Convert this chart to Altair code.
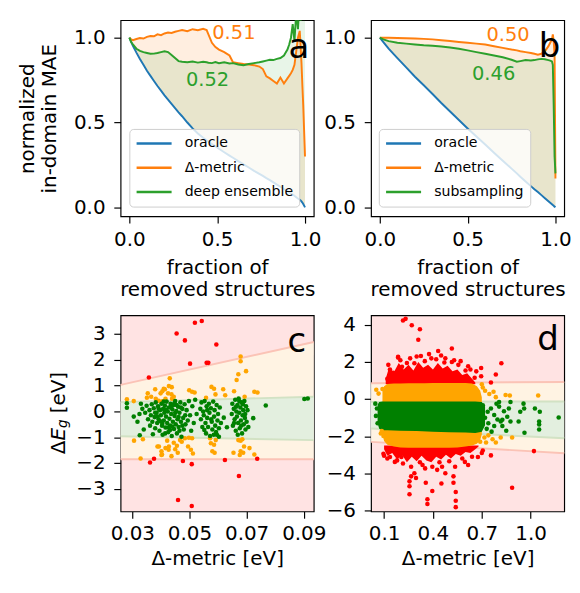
import altair as alt
import pandas as pd

FONT = "DejaVu Sans"
FS = 20.5
BLUE, ORANGE, GREEN = "#1f77b4", "#ff7f0e", "#2ca02c"
P_RED, P_ORANGE, P_GREEN = "#ff0000", "#ffa500", "#008000"
BG_PINK, BG_CREAM, BG_GREEN = "#ffe3e3", "#fff3e3", "#e3efdf"
EDGE_RED, EDGE_GREEN = "#fbc3b6", "#d2e2c4"

# ---------------- panel a ----------------
xa = [0.00, 0.01, 0.02, 0.04, 0.06, 0.08, 0.10, 0.12, 0.14, 0.16, 0.18, 0.20, 0.22, 0.24,
      0.26, 0.28, 0.30, 0.33, 0.36, 0.39, 0.42, 0.44, 0.45, 0.47, 0.49, 0.51, 0.54, 0.57,
      0.59, 0.62, 0.65, 0.68, 0.71, 0.74, 0.76, 0.78, 0.80, 0.82, 0.84, 0.86, 0.88, 0.90,
      0.91, 0.92, 0.93, 0.94, 0.95, 0.96, 0.97, 0.975, 0.98, 0.985, 0.99, 0.995, 1.00]
oracle_a = [1.000, 0.975, 0.952, 0.912, 0.875, 0.840, 0.805, 0.775, 0.745, 0.715, 0.688, 0.660,
            0.635, 0.610, 0.585, 0.560, 0.537, 0.500, 0.465, 0.435, 0.410, 0.395, 0.388, 0.373,
            0.360, 0.345, 0.325, 0.305, 0.292, 0.272, 0.253, 0.235, 0.215, 0.197, 0.185, 0.172,
            0.160, 0.147, 0.134, 0.121, 0.108, 0.095, 0.088, 0.082, 0.075, 0.068, 0.060, 0.052,
            0.045, 0.040, 0.035, 0.028, 0.020, 0.010, 0.000]
delta_a = [1.000, 0.990, 0.985, 0.992, 0.998, 0.995, 1.005, 1.010, 1.008, 1.020, 1.015, 1.025,
           1.030, 1.028, 1.035, 1.040, 1.045, 1.038, 1.050, 1.044, 1.052, 1.045, 1.020, 0.970,
           0.945, 0.930, 0.915, 0.895, 0.855, 0.850, 0.845, 0.842, 0.838, 0.830, 0.815, 0.772,
           0.760, 0.745, 0.730, 0.765, 0.730, 0.760, 0.775, 0.790, 0.810, 0.840, 0.920, 1.000,
           1.040, 0.950, 0.850, 0.720, 0.600, 0.450, 0.300]
ens_a = [1.000, 0.975, 0.960, 0.935, 0.922, 0.915, 0.910, 0.905, 0.906, 0.910, 0.915, 0.920,
         0.915, 0.898, 0.880, 0.862, 0.858, 0.855, 0.860, 0.853, 0.858, 0.855, 0.852, 0.850,
         0.856, 0.850, 0.855, 0.848, 0.850, 0.842, 0.838, 0.845, 0.850, 0.855, 0.860, 0.865,
         0.870, 0.868, 0.875, 0.880, 0.895, 0.930, 0.960, 1.000, 1.080, 0.980, 1.150, 1.050,
         1.250, 1.100, 1.300, 1.120, 1.400, 1.200, 1.500]
series_a = ["oracle", "Δ-metric", "deep ensemble"]
ann_a = [("0.51", 0.595, 0.99, ORANGE), ("0.52", 0.445, 0.717, GREEN)]
letter_a = ("a", 1.024, 0.882)

# ---------------- panel b ----------------
xb = [0.00, 0.02, 0.05, 0.10, 0.15, 0.20, 0.25, 0.30, 0.35, 0.40, 0.45, 0.50, 0.55, 0.60,
      0.65, 0.70, 0.75, 0.78, 0.80, 0.83, 0.86, 0.88, 0.90, 0.92, 0.94, 0.96, 0.97, 0.98,
      0.985, 0.99, 0.995, 1.00]
oracle_b = [1.0, 0.974, 0.935, 0.88, 0.825, 0.77, 0.72, 0.668, 0.615, 0.565, 0.515, 0.465,
            0.417, 0.37, 0.322, 0.275, 0.228, 0.2, 0.18, 0.152, 0.125, 0.107, 0.09, 0.072,
            0.054, 0.036, 0.027, 0.018, 0.013, 0.009, 0.004, 0.0]
delta_b = [1.0, 1.0, 1.0, 0.998, 0.997, 0.995, 0.993, 0.99, 0.985, 0.98, 0.975, 0.97, 0.965,
           0.96, 0.95, 0.94, 0.93, 0.925, 0.92, 0.915, 0.91, 0.905, 0.90, 0.905, 0.92, 0.95,
           0.97, 0.99, 1.02, 0.98, 0.90, 0.17]
sub_b = [1.0, 0.99, 0.98, 0.97, 0.965, 0.96, 0.955, 0.953, 0.948, 0.942, 0.935, 0.925, 0.915,
         0.905, 0.895, 0.885, 0.87, 0.858, 0.862, 0.868, 0.866, 0.868, 0.872, 0.875, 0.873,
         0.868, 0.865, 0.86, 0.84, 0.60, 0.30, 0.20]
series_b = ["oracle", "Δ-metric", "subsampling"]
ann_b = [("0.50", 0.73, 0.98, ORANGE), ("0.46", 0.648, 0.753, GREEN)]
letter_b = ("b", 1.028, 0.886)

# ---------------- panel c ----------------
c_xdom = [0.0259, 0.0935]
c_ydom = [-3.87, 3.72]
c_band_x = [0.0259, 0.0935]
c_red_hi = [1.03, 2.69]
c_green_hi = [0.36, 0.57]
c_green_lo = [-0.96, -1.11]
c_red_lo = [-1.85, -1.85]
c_red = [(0.0519, 3.43), (0.0543, 3.50), (0.0455, 3.02), (0.0484, 2.75), (0.0594, 2.59),
         (0.0502, 1.85), (0.0560, 1.88), (0.0566, 1.88), (0.0358, 1.31), (0.0376, -1.83),
         (0.0362, -1.98), (0.0477, -1.92), (0.0508, -2.04), (0.0624, -1.88), (0.0737, -1.83),
         (0.0673, -2.50), (0.0460, -3.43), (0.0508, -3.66)]
c_orange = [(0.0281, 0.47), (0.0354, 0.70), (0.0351, 0.53), (0.0380, 0.86), (0.0399, 0.70),
            (0.0405, 0.78), (0.0414, 0.86), (0.0428, 0.98), (0.0431, 1.28), (0.0425, 0.70),
            (0.0437, 0.66), (0.0445, 0.57), (0.0439, 0.49), (0.0416, 0.49), (0.0392, 0.41),
            (0.0405, 0.39), (0.0382, 0.49), (0.0499, 0.82), (0.0509, 0.76), (0.0518, 0.73),
            (0.0577, 0.95), (0.0586, 0.88), (0.0591, 0.66), (0.0618, 0.86), (0.0625, 0.63),
            (0.0656, 0.78), (0.0679, 2.13), (0.0679, 1.94), (0.0671, 1.44), (0.0665, 1.22),
            (0.0727, 0.76), (0.0738, 0.73), (0.0693, 0.57), (0.0558, 0.53), (0.0366, 0.57),
            (0.0305, 0.40), (0.0410, 0.88), (0.0438, 0.94), (0.0698, 1.56),
            (0.0306, -1.13), (0.0337, -1.08), (0.0329, -1.82), (0.0388, -1.36), (0.0402, -1.54),
            (0.0402, -1.69), (0.0416, -1.42), (0.0422, -1.13), (0.0428, -1.36), (0.0437, -1.73),
            (0.0445, -1.21), (0.0450, -1.46), (0.0459, -1.60), (0.0456, -1.33), (0.0467, -1.11),
            (0.0473, -1.17), (0.0484, -1.04), (0.0498, -1.02), (0.0495, -1.36), (0.0505, -1.48),
            (0.0512, -1.63), (0.0509, -1.04), (0.0572, -1.04), (0.0575, -1.23), (0.0586, -1.29),
            (0.0592, -1.11), (0.0580, -1.54), (0.0588, -1.60), (0.0654, -1.60), (0.0671, -1.11),
            (0.0679, -1.13), (0.0685, -1.08), (0.0679, -1.54), (0.0688, -1.60), (0.0676, -1.69),
            (0.0691, -1.36), (0.0710, -1.42), (0.0727, -1.67), (0.0393, -1.36), (0.0404, -1.67),
            (0.0427, -1.48)]
c_green = [(0.0281, 0.32), (0.0281, 0.14), (0.0305, -0.20), (0.0318, -0.40), (0.0325, -0.10),
           (0.0340, -0.70), (0.0330, 0.30), (0.0326, -0.92), (0.0335, 0.10), (0.0345, -0.05),
           (0.0350, 0.22), (0.0355, -0.30), (0.0360, 0.05), (0.0362, -0.55), (0.0365, -0.15),
           (0.0368, 0.28), (0.0370, -0.40), (0.0372, -0.88), (0.0375, 0.12), (0.0378, -0.22),
           (0.0380, -0.65), (0.0382, 0.35), (0.0385, -0.05), (0.0387, -0.45), (0.0390, 0.20),
           (0.0392, -0.30), (0.0395, -0.75), (0.0397, 0.05), (0.0400, -0.15), (0.0402, 0.30),
           (0.0404, -0.55), (0.0406, -0.90), (0.0408, 0.10), (0.0410, -0.35), (0.0412, -0.05),
           (0.0414, 0.22), (0.0416, -0.62), (0.0418, -0.20), (0.0420, 0.38), (0.0422, -0.45),
           (0.0424, 0.00), (0.0426, -0.80), (0.0428, 0.15), (0.0430, -0.28), (0.0432, -0.55),
           (0.0434, 0.30), (0.0436, -0.10), (0.0438, -0.95), (0.0440, 0.08), (0.0442, -0.40),
           (0.0444, 0.25), (0.0446, -0.68), (0.0448, -0.18), (0.0450, 0.40), (0.0452, -0.50),
           (0.0454, 0.02), (0.0456, -0.85), (0.0458, -0.30), (0.0460, 0.18), (0.0462, -0.60),
           (0.0465, -0.05), (0.0468, 0.35), (0.0470, -0.40), (0.0472, -0.98), (0.0475, 0.10),
           (0.0478, -0.25), (0.0480, -0.70), (0.0483, 0.28), (0.0486, -0.50), (0.0490, 0.05),
           (0.0494, -0.35), (0.0498, 0.40), (0.0502, -0.15), (0.0506, -0.75), (0.0510, 0.20),
           (0.0515, -0.45), (0.0520, 0.45), (0.0525, -0.10), (0.0392, 0.10), (0.0405, -0.48),
           (0.0418, 0.05), (0.0432, -0.72), (0.0447, 0.32), (0.0462, -0.22), (0.0475, -0.55),
           (0.0388, -0.20), (0.0415, -0.85), (0.0440, -0.58), (0.0455, 0.25), (0.0470, 0.15),
           (0.0485, -0.15), (0.0435, 0.18), (0.0410, 0.38), (0.0398, -0.38), (0.0425, -0.62),
           (0.0450, -0.05), (0.0380, -0.05), (0.0465, -0.75),
           (0.0538, 0.10), (0.0540, -0.30), (0.0542, 0.35), (0.0545, -0.60), (0.0548, 0.00),
           (0.0550, -0.15), (0.0553, 0.40), (0.0556, -0.45), (0.0558, -0.85), (0.0560, 0.20),
           (0.0562, -0.25), (0.0565, -0.60), (0.0568, 0.30), (0.0570, -0.05), (0.0572, -0.95),
           (0.0575, 0.12), (0.0578, -0.40), (0.0580, -0.70), (0.0583, 0.38), (0.0586, -0.20),
           (0.0588, 0.05), (0.0590, -0.55), (0.0593, -0.80), (0.0595, 0.25), (0.0598, -0.35),
           (0.0600, -0.10), (0.0603, -0.65), (0.0606, 0.15), (0.0610, -0.45), (0.0562, 0.05),
           (0.0576, -0.30), (0.0552, -0.72), (0.0585, -0.90), (0.0596, -0.90), (0.0603, -0.98),
           (0.0620, -0.24), (0.0631, -0.61),
           (0.0648, -0.10), (0.0650, 0.30), (0.0652, -0.55), (0.0655, 0.10), (0.0658, -0.30),
           (0.0660, 0.45), (0.0662, -0.75), (0.0664, 0.00), (0.0666, -0.20), (0.0668, 0.25),
           (0.0670, -0.45), (0.0672, 0.50), (0.0674, -0.05), (0.0676, -0.65), (0.0678, 0.15),
           (0.0680, -0.35), (0.0682, 0.35), (0.0684, -0.85), (0.0686, -0.15), (0.0688, 0.05),
           (0.0690, -0.50), (0.0692, 0.40), (0.0694, -0.25), (0.0696, -0.70), (0.0698, 0.20),
           (0.0700, -0.40), (0.0703, 0.05), (0.0706, -0.60), (0.0674, 0.40), (0.0681, -0.55),
           (0.0669, -0.90), (0.0687, 0.28), (0.0663, 0.18), (0.0695, -0.10), (0.0656, -0.45),
           (0.0723, -0.26), (0.0767, 0.23), (0.0902, 0.48), (0.0914, 0.50)]
letter_c = ("c", 0.0908, 2.31)

# ---------------- panel d ----------------
d_xdom = [0.02, 1.206]
d_ydom = [-6.05, 4.52]
d_band_x = [0.02, 1.206]
d_red_hi = [0.86, 0.93]
d_green_hi = [-0.15, -0.12]
d_green_lo = [-1.58, -2.11]
d_red_lo = [-2.30, -2.91]
# dense core of the cloud (too many points to list one by one): envelopes
d_core_x = [0.09, 0.10, 0.12, 0.16, 0.20, 0.25, 0.30, 0.35, 0.40, 0.45, 0.50, 0.55, 0.60,
            0.64, 0.67, 0.69, 0.70]
d_orange_top = [0.45, 0.70, 0.82, 0.84, 0.85, 0.86, 0.86, 0.86, 0.87, 0.87, 0.87, 0.87, 0.87,
                0.85, 0.70, 0.45, 0.10]
d_orange_bot = [-1.90, -2.25, -2.45, -2.55, -2.60, -2.62, -2.62, -2.62, -2.62, -2.62, -2.62,
                -2.60, -2.55, -2.50, -2.40, -2.20, -1.90]
d_gcore_x = [0.06, 0.07, 0.09, 0.12, 0.20, 0.30, 0.40, 0.50, 0.60, 0.66, 0.70, 0.72]
d_gcore_top = [-0.30, -0.15, -0.12, -0.12, -0.12, -0.12, -0.12, -0.12, -0.12, -0.12, -0.15, -0.40]
d_gcore_bot = [-1.30, -1.60, -1.67, -1.68, -1.70, -1.72, -1.75, -1.78, -1.80, -1.82, -1.75, -1.40]
d_rtop_x = [0.11, 0.13, 0.16, 0.19, 0.22, 0.25, 0.28, 0.31, 0.34, 0.37, 0.40, 0.43, 0.46, 0.49,
            0.52, 0.55, 0.58, 0.61, 0.64, 0.66]
d_rtop_hi = [1.10, 1.70, 1.45, 1.95, 1.60, 1.85, 1.55, 2.00, 1.70, 1.85, 1.60, 1.95, 1.65, 1.80,
             1.50, 1.60, 1.30, 1.40, 1.10, 0.90]
d_rtop_lo = [0.80] * 20
d_rbot_x = [0.10, 0.12, 0.15, 0.18, 0.21, 0.24, 0.27, 0.30, 0.33, 0.36, 0.39, 0.42, 0.45, 0.48,
            0.51, 0.54, 0.57, 0.60, 0.63, 0.66, 0.68]
d_rbot_hi = [-2.50] * 21
d_rbot_lo = [-2.70, -3.05, -2.90, -3.25, -3.00, -3.40, -3.10, -3.35, -3.05, -3.30, -3.40, -3.10,
             -3.25, -3.00, -3.20, -2.95, -3.05, -2.85, -2.90, -2.70, -2.55]
d_red = [(0.216, 4.24), (0.232, 4.33), (0.27, 3.98), (0.32, 3.77), (0.31, 3.2), (0.516, 2.73),
         (0.432, 2.6), (0.326, 2.33), (0.186, 2.24), (0.376, 2.43), (0.476, 2.2), (0.82, 1.94),
         (0.126, 1.85), (0.616, 1.77), (0.696, 1.68), (0.786, 1.33), (0.756, 0.9), (0.556, 1.85),
         (0.516, 2.0), (0.286, 1.94), (0.156, 1.42), (0.136, 1.6), (0.666, 1.5), (0.696, 1.24),
         (0.656, 1.16), (0.15, 1.2), (0.20, 2.1), (0.24, 1.95), (0.35, 2.05), (0.42, 2.15),
         (0.47, 1.98), (0.60, 1.55), (0.63, 1.6), (0.12, 1.1), (0.186, 2.29), (0.26, 2.2),
         (0.30, 2.3), (0.39, 2.2), (0.45, 2.35), (0.53, 2.1), (0.57, 2.05), (0.21, 1.75),
         (0.096, -2.94), (0.136, -3.12), (0.216, -3.47), (0.266, -3.64), (0.336, -3.55),
         (0.396, -3.64), (0.456, -3.64), (0.536, -3.64), (0.596, -3.38), (0.676, -3.12),
         (0.756, -3.03), (0.706, -2.77), (0.286, -3.99), (0.266, -4.16), (0.352, -3.73),
         (0.256, -4.43), (0.256, -4.69), (0.256, -5.12), (0.296, -4.25), (0.356, -4.51),
         (0.452, -4.55), (0.526, -4.51), (0.396, -4.95), (0.54, -5.0), (0.366, -5.39),
         (0.366, -5.65), (0.54, -5.47), (0.54, -5.82), (0.886, -4.77), (1.02, -2.8),
         (0.526, -4.16), (0.426, -3.81), (0.476, -3.99), (0.616, -3.55), (0.206, -3.12),
         (0.166, -3.38), (0.12, -3.2), (0.18, -3.3), (0.32, -3.4), (0.44, -3.4), (0.50, -3.35),
         (0.58, -3.2), (0.64, -3.1), (0.10, -3.05), (0.70, -2.9)]
d_orange = [(0.052, 0.51), (0.066, 0.30), (0.09, 0.55), (0.706, 0.63), (0.72, 0.45), (0.746, 0.28),
            (0.772, 0.40), (0.786, 0.11), (0.846, 0.23), (0.872, 0.20), (1.046, 0.20),
            (0.886, -2.07), (0.816, -2.07), (0.786, -2.33), (0.726, -2.33), (0.766, -2.16),
            (0.716, -2.07), (0.096, -1.98), (0.086, -1.72), (0.08, -1.85), (0.70, 0.80),
            (0.69, -2.3), (0.74, -1.95)]
d_green = [(0.046, -0.24), (0.056, -0.5), (0.05, -0.9), (0.06, -1.3), (0.706, -0.33),
           (0.736, -0.68), (0.756, -0.5), (0.776, -0.85), (0.796, -1.1), (0.816, -1.2),
           (0.826, -1.45), (0.836, -0.65), (0.806, -0.4), (0.776, -1.45), (0.856, -0.95),
           (0.876, -1.2), (0.926, -1.2), (0.936, -0.68), (0.956, -0.24), (0.96, -0.5),
           (1.026, -0.5), (1.056, -0.68), (1.052, -1.2), (1.052, -1.37), (1.052, -1.63),
           (1.172, -0.99), (0.962, -1.81), (0.866, -0.5), (0.806, -0.15), (0.876, -0.15),
           (0.826, -1.11), (0.72, -1.0), (0.74, -1.3), (0.73, -1.6), (0.76, -1.75),
           (0.79, -0.25), (0.85, -1.7)]
letter_d = ("d", 1.172, 2.64)

W, H = 199, 202


def txt(df_rows, size, color, align="center"):
    d = pd.DataFrame(df_rows, columns=["t", "x", "y"])
    return alt.Chart(d).mark_text(font=FONT, fontSize=size, color=color, align=align,
                                  baseline="alphabetic")


def top_panel(x, oracle, delta, other, names, ann, letter, ytitle, legend_x):
    wide = pd.DataFrame({"x": x, "oracle": oracle, "delta": delta, "other": other})
    long = pd.concat([pd.DataFrame({"x": x, "y": oracle, "s": names[0]}),
                      pd.DataFrame({"x": x, "y": delta, "s": names[1]}),
                      pd.DataFrame({"x": x, "y": other, "s": names[2]})])
    xs = alt.Scale(domain=[-0.05, 1.05], nice=False, zero=False)
    ys = alt.Scale(domain=[-0.053, 1.103], nice=False, zero=False)
    ax = alt.Axis(values=[0, 0.5, 1.0], format=".1f", title=["fraction of", "removed structures"],
                  labelPadding=7, titlePadding=8)
    ay = alt.Axis(values=[0, 0.5, 1.0], format=".1f", title=ytitle)
    X = alt.X("x:Q", scale=xs, axis=ax)
    fill_d = alt.Chart(wide).mark_area(color=ORANGE, opacity=0.13).encode(
        x=X, y=alt.Y("oracle:Q", scale=ys, axis=ay), y2="delta:Q")
    fill_o = alt.Chart(wide).mark_area(color=GREEN, opacity=0.11, clip=True).encode(
        x=X, y=alt.Y("oracle:Q", scale=ys, axis=ay), y2="other:Q")
    lines = alt.Chart(long).mark_line(strokeWidth=2, clip=True).encode(
        x=X, y=alt.Y("y:Q", scale=ys, axis=ay),
        color=alt.Color("s:N", sort=names,
                        scale=alt.Scale(domain=names, range=[BLUE, ORANGE, GREEN]),
                        legend=alt.Legend(title=None, orient="none", legendX=legend_x, legendY=112,
                                          symbolType="stroke", symbolSize=1300, symbolStrokeWidth=2.5,
                                          clipHeight=18,
                                          labelFont=FONT, labelFontSize=14.5, labelColor="black",
                                          fillColor="rgba(255,255,255,0.8)", strokeColor="#cccccc",
                                          cornerRadius=4, padding=6, rowPadding=7, labelOffset=12,
                                          labelLimit=300)))
    layers = [fill_d, fill_o, lines]
    for t, tx, ty, col in ann:
        layers.append(txt([(t, tx, ty)], 20, col).encode(x=X, y=alt.Y("y:Q", scale=ys, axis=ay), text="t:N"))
    layers.append(txt([letter], 35, "black", "right").encode(
        x=X, y=alt.Y("y:Q", scale=ys, axis=ay), text="t:N"))
    return alt.layer(*layers).properties(width=W, height=H)


def bottom_panel(xdom, ydom, xvals, xfmt, yvals, band_x, red_hi, green_hi, green_lo, red_lo,
                 red, orange, green, letter, cores=None, ytitle=False):
    xs = alt.Scale(domain=xdom, nice=False, zero=False)
    ys = alt.Scale(domain=ydom, nice=False, zero=False)
    X = alt.X("x:Q", scale=xs, axis=alt.Axis(values=xvals, format=xfmt, title="Δ-metric [eV]",
                                             labelPadding=6, titlePadding=5))
    ay = alt.Axis(values=yvals, format="d", title=None)
    bands = pd.DataFrame({"x": band_x, "rh": red_hi, "gh": green_hi, "gl": green_lo, "rl": red_lo})
    layers = [
        alt.Chart(bands).mark_area(color=BG_CREAM, opacity=1).encode(
            x=X, y=alt.Y("rl:Q", scale=ys, axis=ay), y2="rh:Q"),
        alt.Chart(bands).mark_area(color=BG_GREEN, opacity=1).encode(
            x=X, y=alt.Y("gl:Q", scale=ys, axis=ay), y2="gh:Q"),
    ]
    for col, c in [("rh", EDGE_RED), ("rl", EDGE_RED), ("gh", EDGE_GREEN), ("gl", EDGE_GREEN)]:
        layers.append(alt.Chart(bands).mark_line(color=c, strokeWidth=2).encode(
            x=X, y=alt.Y(f"{col}:Q", scale=ys, axis=ay)))
    if cores:
        for cx, lo, hi, c in cores:
            cdf = pd.DataFrame({"x": cx, "lo": lo, "hi": hi})
            layers.append(alt.Chart(cdf).mark_area(color=c, opacity=1).encode(
                x=X, y=alt.Y("lo:Q", scale=ys, axis=ay), y2="hi:Q"))
    for pts, c in [(red, P_RED), (orange, P_ORANGE), (green, P_GREEN)]:
        pdf = pd.DataFrame(pts, columns=["x", "y"])
        layers.append(alt.Chart(pdf).mark_circle(size=22, opacity=1, color=c).encode(
            x=X, y=alt.Y("y:Q", scale=ys, axis=ay)))
    layers.append(txt([letter], 35, "black", "right").encode(
        x=X, y=alt.Y("y:Q", scale=ys, axis=ay), text="t:N"))
    if ytitle:
        pieces = [("Δ", 143, -57, FS, "normal"), ("E", 129, -57, FS, "italic"),
                  ("g", 116, -55, 14, "italic"), ("[eV]", 101, -57, FS, "normal")]
        for t, py, px, fs, st in pieces:
            layers.append(alt.Chart(pd.DataFrame({"t": [t]})).mark_text(
                font=FONT, fontSize=fs, fontStyle=st, angle=270, align="left",
                baseline="alphabetic", color="black").encode(
                x=alt.value(px), y=alt.value(py), text="t:N"))
    return alt.layer(*layers).properties(
        width=W, height=H, view=alt.ViewBackground(fill=BG_PINK, stroke="black", strokeWidth=1.2))


pa = top_panel(xa, oracle_a, delta_a, ens_a, series_a, ann_a, letter_a,
               ["normalized", "in-domain MAE"], 9)
pb = top_panel(xb, oracle_b, delta_b, sub_b, series_b, ann_b, letter_b, None, 8)
pc = bottom_panel(c_xdom, c_ydom, [0.03, 0.05, 0.07, 0.09], ".2f", [-3, -2, -1, 0, 1, 2, 3],
                  c_band_x, c_red_hi, c_green_hi, c_green_lo, c_red_lo,
                  c_red, c_orange, c_green, letter_c, ytitle=True)
pd_ = bottom_panel(d_xdom, d_ydom, [0.1, 0.4, 0.7, 1.0], ".1f", [-6, -4, -2, 0, 2, 4],
                   d_band_x, d_red_hi, d_green_hi, d_green_lo, d_red_lo,
                   d_red, d_orange, d_green, letter_d,
                   cores=[(d_rtop_x, d_rtop_lo, d_rtop_hi, P_RED),
                          (d_rbot_x, d_rbot_lo, d_rbot_hi, P_RED),
                          (d_core_x, d_orange_bot, d_orange_top, P_ORANGE),
                          (d_gcore_x, d_gcore_bot, d_gcore_top, P_GREEN)])

chart = alt.concat(pa, pb, pc, pd_, columns=2, spacing={"row": 102, "column": 59},
                   bounds="flush").resolve_scale(color="independent").properties(
    padding={"left": 9, "top": 3, "right": 0, "bottom": 0}
).configure_axis(
    labelFont=FONT, titleFont=FONT, labelFontSize=FS, titleFontSize=FS, labelColor="black",
    titleColor="black", tickColor="black", tickWidth=1.2, tickSize=7, domain=False, grid=False,
    labelPadding=6, titleFontWeight="normal", labelFlush=False, titleLineHeight=23,
    labelOverlap=False, titlePadding=8
).configure_axisY(
    labelPadding=9, titlePadding=14
).configure_view(stroke="black", strokeWidth=1.2)

chart.save("out.html", embed_options={"renderer": "svg", "actions": False})
